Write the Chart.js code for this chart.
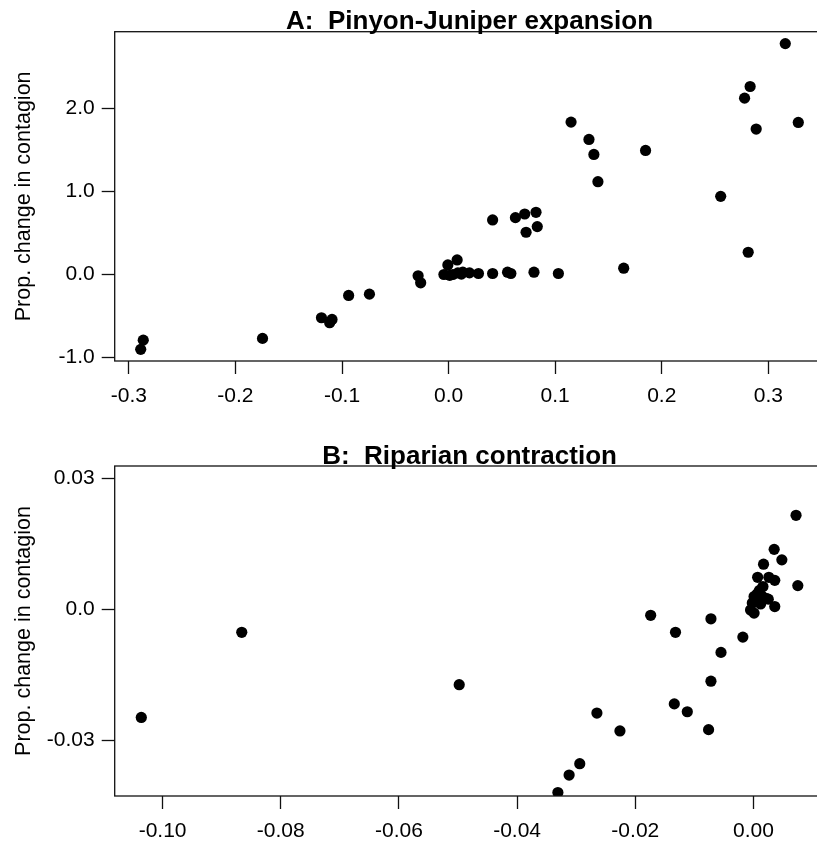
<!DOCTYPE html>
<html>
<head>
<meta charset="utf-8">
<script src="https://cdn.jsdelivr.net/npm/chart.js@4.4.0/dist/chart.umd.min.js"></script>
<style>
  html, body { margin: 0; padding: 0; background: #fff; overflow: hidden; }
  #wrap { position: relative; width: 817px; height: 841px; overflow: hidden; }
  canvas { position: absolute; left: 0; }
</style>
</head>
<body>
<div id="wrap">
  <canvas id="panelA" width="830" height="420" style="top:0"></canvas>
  <canvas id="panelB" width="830" height="421" style="top:420px"></canvas>
</div>
<script>
// Panel A: Pinyon-Juniper expansion
const expA = [-0.2889, -0.2865, -0.1746, -0.1193, -0.1116, -0.1094, -0.0938, -0.0743,
  -0.0286, -0.0262, -0.0044, -0.0007, 0.0080, 0.0010, 0.0040, 0.0087, 0.0120, 0.0133,
  0.0196, 0.0280, 0.0413, 0.0413, 0.0553, 0.0584, 0.0627, 0.0714, 0.0727, 0.0820,
  0.0832, 0.0801, 0.1030, 0.1149, 0.1317, 0.1363, 0.1401, 0.1643, 0.1848, 0.2553,
  0.2777, 0.2829, 0.2811, 0.2886, 0.3159, 0.3281];
const contagA = [-0.900, -0.789, -0.768, -0.520, -0.580, -0.540, -0.252, -0.236,
  -0.015, -0.100, 0.000, 0.115, 0.175, -0.010, 0.000, 0.020, 0.005, 0.028,
  0.020, 0.012, 0.012, 0.656, 0.028, 0.012, 0.684, 0.728, 0.508, 0.748,
  0.576, 0.028, 0.012, 1.833, 1.624, 1.444, 1.116, 0.076, 1.492, 0.940,
  2.121, 2.261, 0.268, 1.749, 2.777, 1.829];
const xTicksA = [-0.3, -0.2, -0.1, 0.0, 0.1, 0.2, 0.3];
const xLabelsA = ['-0.3', '-0.2', '-0.1', '0.0', '0.1', '0.2', '0.3'];
const yTicksA = [-1, 0, 1, 2];
const yLabelsA = ['-1.0', '0.0', '1.0', '2.0'];

// Panel B: Riparian contraction
const expB = [-0.1036, -0.0866, -0.0498, -0.0331, -0.0312, -0.0294, -0.0265, -0.0226,
  -0.0174, -0.0132, -0.0134, -0.0112, -0.0072, -0.0072, -0.0076, -0.0055, -0.0018,
  0.0072, 0.0035, 0.0048, 0.0017, 0.0007, 0.0026, 0.0036, 0.0075, 0.0016, 0.0010,
  0.0001, 0.0021, 0.0025, -0.0002, 0.0012, 0.0036, -0.0005, 0.0001, 0.0006, 0.0014];
const contagB = [-0.0248, -0.0053, -0.0173, -0.0420, -0.0380, -0.0354, -0.0238, -0.0279,
  -0.0014, -0.0053, -0.0217, -0.0235, -0.0022, -0.0165, -0.0276, -0.0099, -0.0064,
  0.0215, 0.0137, 0.0113, 0.0103, 0.0073, 0.0073, 0.0066, 0.0054, 0.0052, 0.0043,
  0.0029, 0.0025, 0.0023, 0.0014, 0.0012, 0.0006, -0.0002, -0.0009, 0.0035, 0.0030];
const xTicksB = [-0.10, -0.08, -0.06, -0.04, -0.02, 0.00];
const xLabelsB = ['-0.10', '-0.08', '-0.06', '-0.04', '-0.02', '0.00'];
const yTicksB = [-0.03, 0, 0.03];
const yLabelsB = ['-0.03', '0.0', '0.03'];

const FONT = "'Liberation Sans', Arial, Helvetica, sans-serif";

// R style box plus bold panel title above the plot region
const boxPlugin = {
  id: 'rbox',
  afterDatasetsDraw(chart, args, opts) {
    const {ctx, chartArea: a} = chart;
    ctx.save();
    ctx.strokeStyle = '#111';
    ctx.lineWidth = 1.3;
    ctx.strokeRect(a.left, a.top, a.right - a.left, a.bottom - a.top);
    ctx.fillStyle = '#000';
    ctx.font = 'bold 26px ' + FONT;
    ctx.textAlign = 'center';
    ctx.textBaseline = 'alphabetic';
    ctx.fillText(opts.text, (a.left + a.right) / 2, a.top - 2.5);
    ctx.restore();
  }
};

function makePanel(id, xs, ys, xr, yr, xt, xl, yt, yl, title, padTop, xHeight) {
  const pts = xs.map((x, i) => ({x: x, y: ys[i]}));
  return new Chart(document.getElementById(id), {
    type: 'scatter',
    data: {
      datasets: [{
        data: pts,
        backgroundColor: '#000',
        borderColor: '#000',
        borderWidth: 0,
        pointRadius: 5.6,
        clip: 0
      }]
    },
    options: {
      responsive: false,
      animation: false,
      layout: {padding: {top: padTop, right: 1, left: 0, bottom: 0}},
      plugins: {
        legend: {display: false},
        tooltip: {enabled: false},
        rbox: {text: title}
      },
      scales: {
        x: {
          type: 'linear',
          min: xr[0], max: xr[1],
          afterBuildTicks: s => { s.ticks = xt.map(v => ({value: v})); },
          afterFit: s => { s.height = xHeight; },
          grid: {drawOnChartArea: false, drawTicks: true, tickLength: 13, tickColor: '#111', tickWidth: 1.3},
          border: {display: false},
          ticks: {
            autoSkip: false, maxRotation: 0, padding: 10, color: '#000',
            font: {family: FONT, size: 21},
            callback: (v, i) => xl[i]
          }
        },
        y: {
          type: 'linear',
          min: yr[0], max: yr[1],
          afterBuildTicks: s => { s.ticks = yt.map(v => ({value: v})); },
          afterFit: s => { s.width = 114.7; },
          grid: {drawOnChartArea: false, drawTicks: true, tickLength: 13, tickColor: '#111', tickWidth: 1.3},
          border: {display: false},
          title: {
            display: true, text: 'Prop. change in contagion', color: '#000',
            font: {family: FONT, size: 21.5}, padding: {top: 11, bottom: 0}
          },
          ticks: {
            autoSkip: false, padding: 7, color: '#000',
            font: {family: FONT, size: 21},
            callback: (v, i) => yl[i]
          }
        }
      }
    },
    plugins: [boxPlugin]
  });
}

makePanel('panelA', expA, contagA, [-0.3133, 0.3526], [-1.04, 2.92],
  xTicksA, xLabelsA, yTicksA, yLabelsA, 'A:  Pinyon-Juniper expansion', 31.7, 59);
makePanel('panelB', expB, contagB, [-0.1081, 0.0120], [-0.0428, 0.0328],
  xTicksB, xLabelsB, yTicksB, yLabelsB, 'B:  Riparian contraction', 46, 45);
</script>
</body>
</html>
